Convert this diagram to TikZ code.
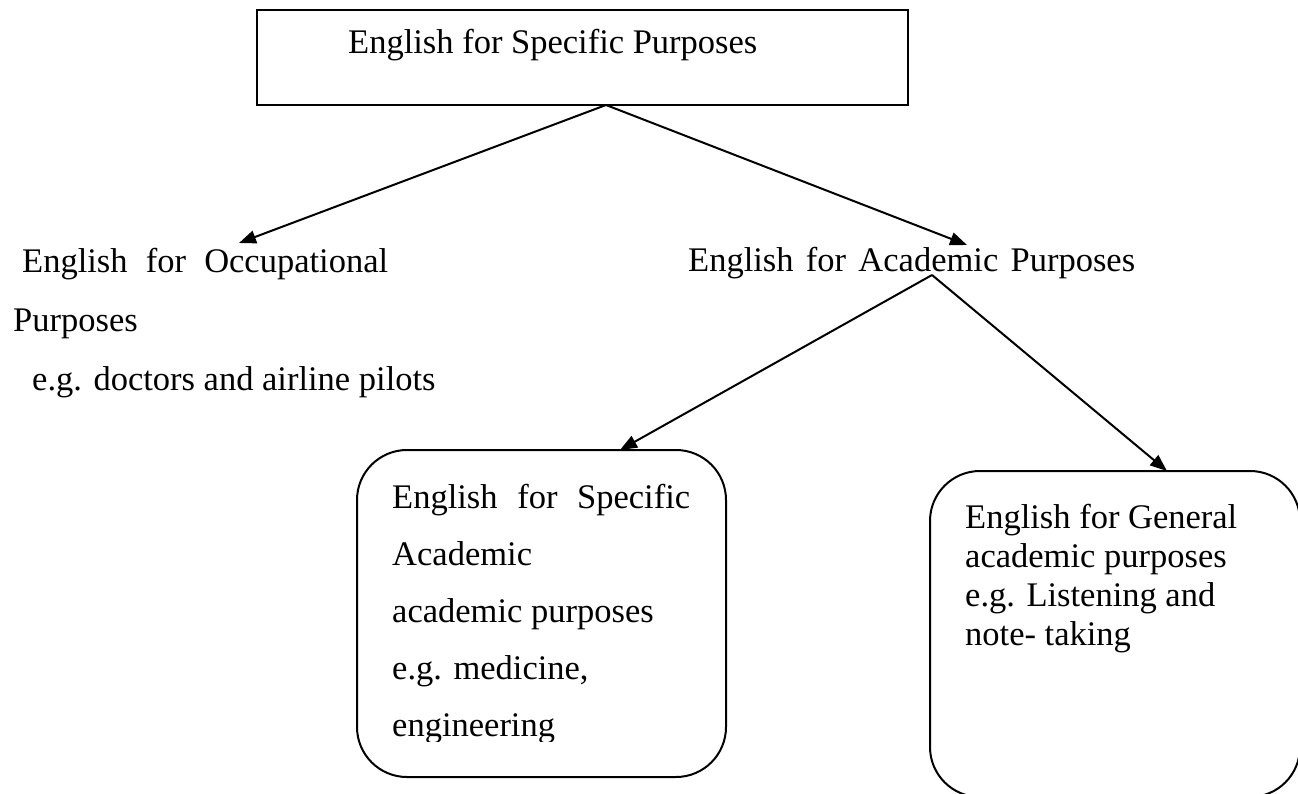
\documentclass[tikz,border=0pt]{standalone}
\usepackage{fontspec}
\setmainfont{Liberation Serif}
\usetikzlibrary{arrows.meta}
\begin{document}
\begin{tikzpicture}[x=1pt,y=-1pt,
  txt/.style={inner sep=0pt, anchor=base west, align=left},
  conn/.style={line width=2pt, -{Triangle[length=17pt,width=13pt]}},
  box/.style={draw, line width=2pt, inner sep=0pt},
  rbox/.style={box, rounded corners=50pt}]
\useasboundingbox (0,0) rectangle (1298,794);

% boxes
\node[box, minimum width=651pt, minimum height=95pt] (esp) at (582.5,57.5) {};
\node[rbox, minimum width=369pt, minimum height=327pt] (lbox) at (541.5,613.5) {};
\node[rbox, minimum width=370pt, minimum height=326pt] (rbox) at (1115,634) {};

% texts (base anchor of a multi-line node = last line)
\node[txt, font=\fontsize{34.5}{40}\selectfont] (espt) at (348,54) {English for Specific Purposes};
\node[txt, font=\fontsize{34.5}{59}\selectfont] (eop) at (13,390)
  {\hspace*{9pt}\makebox[366pt][s]{English for Occupational}\\Purposes\\\hspace*{19pt}e.g. doctors and airline pilots};
\node[txt, font=\fontsize{34.5}{40}\selectfont] (eap) at (688,272)
  {\makebox[447pt][s]{English for Academic Purposes}};
\begin{scope}
  \clip (357,450) rectangle (726,741);
  \node[txt, font=\fontsize{34.5}{57}\selectfont] (esap) at (392,736)
    {\makebox[298pt][s]{English for Specific}\\Academic\\academic purposes\\e.g. medicine,\\engineering};
\end{scope}
\node[txt, font=\fontsize{34.5}{39}\selectfont] (egap) at (965,645)
  {English for General\\academic purposes\\e.g. Listening and\\note- taking};

% connector ends
\coordinate (s1) at (606,105);
\coordinate (t1) at (239,243);
\coordinate (t2) at (967,245);
\coordinate (s2) at (932,275);
\coordinate (t3) at (620,450);
\coordinate (t4) at (1167,471);

\draw[conn] (s1) -- (t1);
\draw[conn] (s1) -- (t2);
\draw[conn] (s2) -- (t3);
\draw[conn] (s2) -- (t4);
\end{tikzpicture}
\end{document}
